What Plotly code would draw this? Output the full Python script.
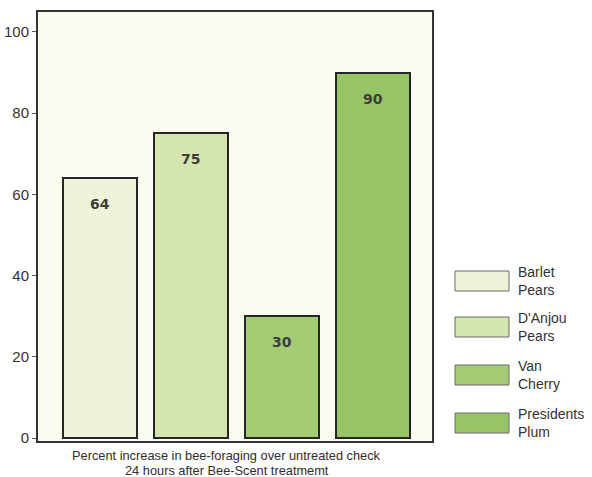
import plotly.graph_objects as go

categories = ["Barlet<br>Pears", "D'Anjou<br>Pears", "Van<br>Cherry", "Presidents<br>Plum"]
values = [64, 75, 30, 90]
colors = ["#eff3da", "#d4e5b0", "#a3cc74", "#97c566"]
y_ticks = [0, 20, 40, 60, 80, 100]
x_title_lines = ["Percent increase in bee-foraging over untreated check",
                 "24 hours after Bee-Scent treatmemt"]

L, R, T, B = 38, 160, 12, 36
W, H = 592, 477
pw, ph = W - L - R, H - T - B

fig = go.Figure()
for i, (c, v, col) in enumerate(zip(categories, values, colors)):
    fig.add_trace(go.Bar(
        x=[i], y=[v], width=0.81, marker=dict(color=col, line=dict(color="#262626", width=2)),
        showlegend=False, name=c.replace("<br>", " "), hoverinfo="y"))

shapes = []
annotations = []
for i, v in enumerate(values):
    annotations.append(dict(x=i, y=v, xref="x", yref="y", text=str(v), showarrow=False,
                            yanchor="middle", yshift=-26,
                            font=dict(family="DejaVu Sans, Verdana", size=14, color="#3d3d3d", weight="bold")))

# x-axis caption
for k, (line, py) in enumerate(zip(x_title_lines, [455, 470])):
    annotations.append(dict(xref="paper", yref="paper", x=(226.5 - L) / pw, y=(H - B - py) / ph,
                            text=line, showarrow=False, xanchor="center", yanchor="middle",
                            font=dict(family="Liberation Sans, Arial", size=12.8, color="#2e2e2e")))

# legend drawn manually
legend_tops = [271, 317, 365, 413]
for (c, col, top) in zip(categories, colors, legend_tops):
    x0 = (455 - L) / pw
    x1 = (509 - L) / pw
    y1 = (H - B - top) / ph
    y0 = (H - B - top - 20) / ph
    shapes.append(dict(type="rect", xref="paper", yref="paper", x0=x0, x1=x1, y0=y0, y1=y1,
                       fillcolor=col, line=dict(color="#6a6a6a", width=1)))
    annotations.append(dict(xref="paper", yref="paper", x=(516 - L) / pw, y=(y0 + y1) / 2,
                            text=c, showarrow=False, xanchor="left", yanchor="middle", align="left",
                            font=dict(family="Liberation Sans, Arial", size=14, color="#333333")))

fig.update_layout(
    width=W, height=H, margin=dict(l=L, r=R, t=T, b=B, autoexpand=False),
    paper_bgcolor="white", plot_bgcolor="#fbfbf1",
    barmode="overlay", bargap=0,
    shapes=shapes, annotations=annotations,
    font=dict(family="Liberation Sans, Arial", color="#333333"),
)
fig.update_xaxes(range=[-0.681, 3.648], showticklabels=False, ticks="", showgrid=False, zeroline=False,
                 showline=True, linecolor="#333333", linewidth=2, mirror=True, automargin=False)
fig.update_yaxes(range=[-0.7, 104.9], tickvals=y_ticks, ticks="outside", ticklen=4, tickcolor="#555555",
                 tickfont=dict(size=15, color="#333333"), showgrid=False, zeroline=False, automargin=False,
                 showline=True, linecolor="#333333", linewidth=2, mirror=True)

fig.write_html("out.html")
